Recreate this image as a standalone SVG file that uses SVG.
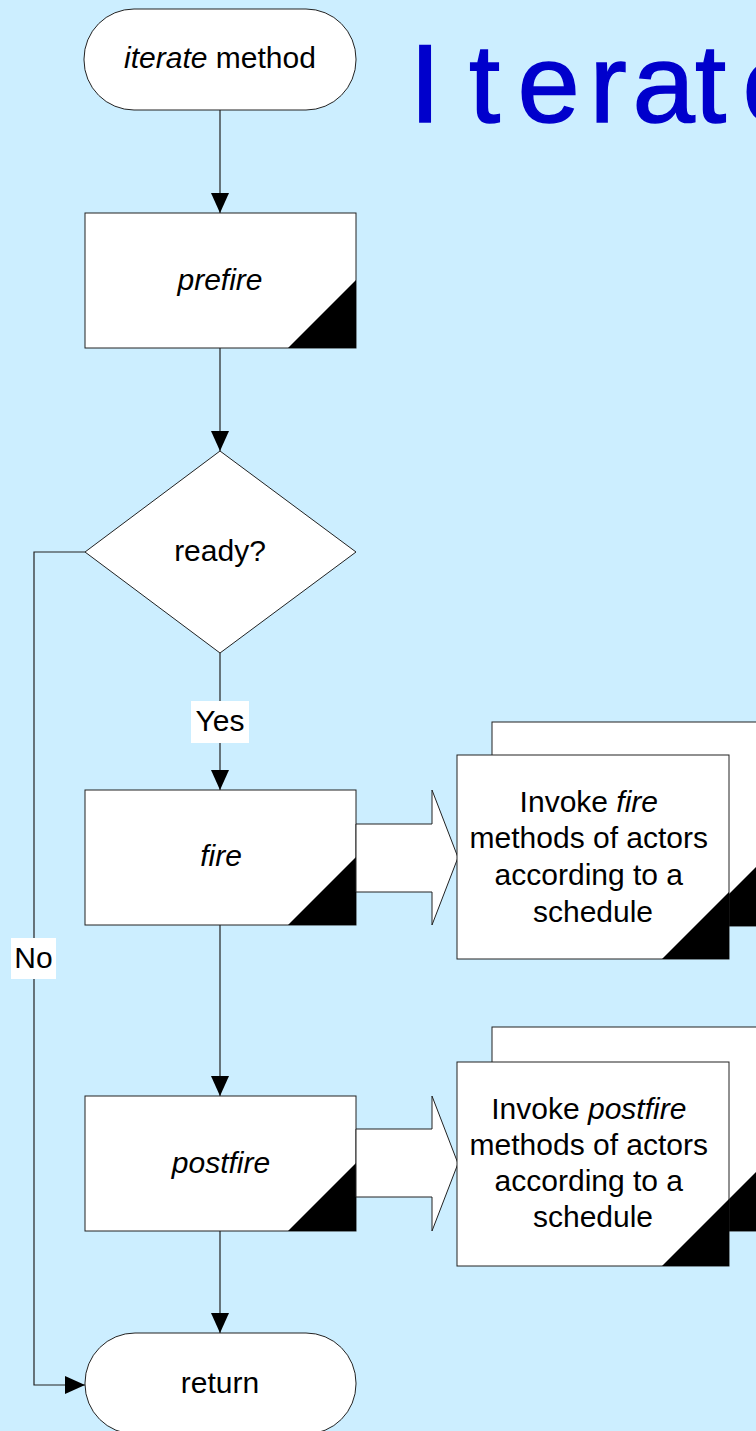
<svg xmlns="http://www.w3.org/2000/svg" width="756" height="1431" viewBox="0 0 756 1431">
  <defs>
    <style>
      .shape { fill: #ffffff; stroke: #222222; stroke-width: 1; }
      .corner { fill: #000000; stroke: none; }
      .wire { fill: none; stroke: #222222; stroke-width: 1.2; }
      .label { font-family: "Liberation Sans", Arial, sans-serif; font-size: 30px; fill: #000000; text-anchor: middle; }
      .it { font-style: italic; }
      .tag { fill: #ffffff; stroke: none; }
      .title { font-family: "Liberation Sans", Arial, sans-serif; font-size: 112px; fill: #0000cc; stroke: #0000cc; stroke-width: 1.5; }
    </style>
    <marker id="arrow" markerUnits="userSpaceOnUse" markerWidth="20" markerHeight="20" viewBox="0 0 20 20" refX="20" refY="10" orient="auto">
      <path d="M0,1 L20,10 L0,19 Z" fill="#000000"/>
    </marker>
  </defs>

  <rect width="756" height="1431" fill="#cceeff"/>

  <!-- heading (runs past the right edge) -->
  <text class="title" y="122" x="409.5 469 517.5 589.5 632.5 695 742.5">Iterate</text>

  <!-- connectors -->
  <g id="connectors">
    <line class="wire" x1="220" y1="110" x2="220" y2="213" marker-end="url(#arrow)"/>
    <line class="wire" x1="220" y1="348" x2="220" y2="451" marker-end="url(#arrow)"/>
    <line class="wire" x1="220" y1="653" x2="220" y2="790" marker-end="url(#arrow)"/>
    <line class="wire" x1="220" y1="925" x2="220" y2="1096" marker-end="url(#arrow)"/>
    <line class="wire" x1="220" y1="1231" x2="220" y2="1333" marker-end="url(#arrow)"/>
    <polyline class="wire" points="85,552 34,552 34,1385 85,1385" marker-end="url(#arrow)"/>
    <rect class="tag" x="191" y="701" width="58" height="42"/>
    <text class="label" x="220" y="731">Yes</text>
    <rect class="tag" x="11" y="938" width="45" height="41"/>
    <text class="label" x="33.5" y="968">No</text>
  </g>

  <!-- start terminal -->
  <g id="node-iterate">
    <rect class="shape" x="84" y="9" width="272" height="101" rx="50" ry="50"/>
    <text class="label" x="220" y="68"><tspan class="it">iterate</tspan> method</text>
  </g>

  <!-- prefire -->
  <g id="node-prefire">
    <rect class="shape" x="85" y="213" width="271" height="135"/>
    <polygon class="corner" points="288,348 356,280 356,348"/>
    <text class="label it" x="220" y="290">prefire</text>
  </g>

  <!-- decision -->
  <g id="node-ready">
    <polygon class="shape" points="220,451 356,552 220,653 85,552"/>
    <text class="label" x="220" y="561">ready?</text>
  </g>

  <!-- fire -->
  <g id="node-fire">
    <rect class="shape" x="85" y="790" width="271" height="135"/>
    <polygon class="corner" points="288,925 356,857 356,925"/>
    <text class="label it" x="221" y="866">fire</text>
  </g>

  <g id="fire-expand">
    <polygon class="shape" points="356,824 432,824 432,790 458,857.5 432,925 432,892 356,892"/>
  </g>

  <g id="node-fire-actors">
    <rect class="shape" x="492" y="722" width="272" height="204"/>
    <polygon class="corner" points="697,926 764,859 764,926"/>
    <rect class="shape" x="457" y="755" width="272" height="204"/>
    <polygon class="corner" points="662,959 729,892 729,959"/>
    <text class="label" x="593">
      <tspan x="593" y="812">Invoke <tspan class="it">fire</tspan></tspan>
      <tspan x="593" y="848">methods of actors</tspan>
      <tspan x="593" y="885">according to a</tspan>
      <tspan x="593" y="922">schedule</tspan>
    </text>
  </g>

  <!-- postfire -->
  <g id="node-postfire">
    <rect class="shape" x="85" y="1096" width="271" height="135"/>
    <polygon class="corner" points="288,1231 356,1163 356,1231"/>
    <text class="label it" x="221" y="1173">postfire</text>
  </g>

  <g id="postfire-expand">
    <polygon class="shape" points="356,1129 432,1129 432,1096 458,1163.5 432,1231 432,1197 356,1197"/>
  </g>

  <g id="node-postfire-actors">
    <rect class="shape" x="492" y="1027" width="272" height="204"/>
    <polygon class="corner" points="697,1231 764,1164 764,1231"/>
    <rect class="shape" x="457" y="1062" width="272" height="204"/>
    <polygon class="corner" points="662,1266 729,1199 729,1266"/>
    <text class="label" x="593">
      <tspan x="593" y="1119">Invoke <tspan class="it">postfire</tspan></tspan>
      <tspan x="593" y="1155">methods of actors</tspan>
      <tspan x="593" y="1191">according to a</tspan>
      <tspan x="593" y="1227">schedule</tspan>
    </text>
  </g>

  <!-- end terminal -->
  <g id="node-return">
    <rect class="shape" x="85" y="1333" width="271" height="101" rx="50" ry="50"/>
    <text class="label" x="220" y="1393">return</text>
  </g>
</svg>
